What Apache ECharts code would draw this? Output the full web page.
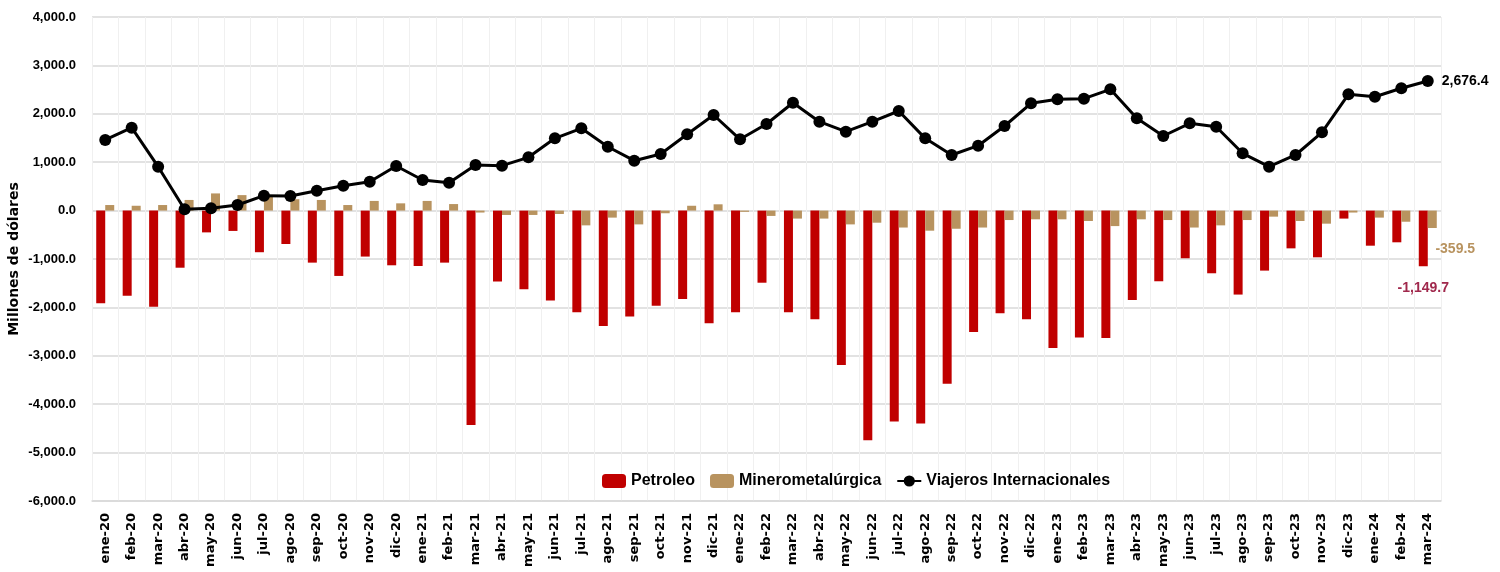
<!DOCTYPE html>
<html>
<head>
<meta charset="utf-8">
<script src="https://cdn.jsdelivr.net/npm/echarts@6/dist/echarts.min.js"></script>
<style>
  html, body { margin: 0; padding: 0; background: #fff; }
  #chart { width: 1500px; height: 572px; }
</style>
</head>
<body>
<div id="chart"></div>
<script>
// meses ene-20 .. mar-24
const months = ['ene-20','feb-20','mar-20','abr-20','may-20','jun-20','jul-20','ago-20','sep-20','oct-20','nov-20','dic-20',
  'ene-21','feb-21','mar-21','abr-21','may-21','jun-21','jul-21','ago-21','sep-21','oct-21','nov-21','dic-21',
  'ene-22','feb-22','mar-22','abr-22','may-22','jun-22','jul-22','ago-22','sep-22','oct-22','nov-22','dic-22',
  'ene-23','feb-23','mar-23','abr-23','may-23','jun-23','jul-23','ago-23','sep-23','oct-23','nov-23','dic-23',
  'ene-24','feb-24','mar-24'];

const petroleo = [-1915,-1760,-1985,-1180,-450,-420,-860,-690,-1075,-1350,-950,-1130,
  -1145,-1075,-4430,-1465,-1625,-1860,-2100,-2385,-2190,-1965,-1825,-2330,
  -2100,-1490,-2100,-2245,-3190,-4745,-4360,-4400,-3575,-2510,-2120,-2245,
  -2840,-2620,-2630,-1845,-1460,-985,-1295,-1735,-1240,-780,-965,-165,
  -725,-655,-1149.7];

const minero = [115,100,115,220,355,320,285,235,220,115,200,150,
  200,135,-40,-90,-90,-70,-305,-145,-285,-55,100,130,
  -25,-110,-165,-165,-285,-250,-350,-415,-375,-350,-195,-180,
  -180,-215,-320,-180,-195,-350,-305,-195,-125,-215,-270,-40,
  -145,-230,-359.5];

const viajeros = [1459,1713,907,27,48,116,308,302,411,515,597,921,
  632,576,942,928,1101,1493,1700,1320,1031,1169,1576,1975,
  1473,1789,2229,1837,1630,1837,2058,1493,1149,1341,1748,2217,
  2300,2312,2506,1907,1541,1804,1733,1184,907,1149,1618,2403,
  2353,2527,2676.4];

const yTicks = { min: -6000, max: 4000, step: 1000 };

const sans = "'Liberation Sans', Arial, sans-serif";
const fmt = v => v.toLocaleString('en-US', { minimumFractionDigits: 1, maximumFractionDigits: 1 });

function lastLabel(arr, label) {
  return arr.map((v, i) => i === arr.length - 1 ? { value: v, label: label } : v);
}

const chart = echarts.init(document.getElementById('chart'));
const option = {
  animation: false,
  grid: { left: 92, right: 59, top: 17, bottom: 71, containLabel: false, outerBoundsMode: 'none' },
  legend: {
    left: 597, top: 468,
    itemWidth: 24, itemHeight: 14, itemGap: 15,
    textStyle: { fontFamily: sans, fontSize: 16, fontWeight: 'bold', color: '#000' },
    data: ['Petroleo', 'Minerometalúrgica', 'Viajeros Internacionales']
  },
  xAxis: {
    type: 'category',
    data: months,
    axisLine: { onZero: false, lineStyle: { color: '#d9d9d9', width: 1.5 } },
    axisTick: { show: false },
    splitLine: { show: true, lineStyle: { color: '#f0f0f0' } },
    axisLabel: {
      rotate: 90, interval: 0, margin: 12,
      fontFamily: 'DejaVu Sans', fontWeight: 'bold', fontSize: 13, color: '#000'
    }
  },
  yAxis: {
    type: 'value',
    min: yTicks.min, max: yTicks.max, interval: yTicks.step,
    name: 'Millones de dólares',
    nameLocation: 'middle', nameGap: 71, nameMoveOverlap: false,
    nameTextStyle: { fontFamily: 'DejaVu Sans', fontWeight: 'bold', fontSize: 14, color: '#000' },
    axisLine: { show: false },
    axisTick: { show: false },
    splitLine: { lineStyle: { color: '#d9d9d9', width: 1.5 } },
    axisLabel: {
      margin: 16, formatter: fmt,
      fontFamily: sans, fontWeight: 'bold', fontSize: 13, color: '#000'
    }
  },
  series: [
    {
      name: 'Petroleo', type: 'bar',
      barWidth: 9, barGap: '0%',
      itemStyle: { color: '#c00000' },
      data: lastLabel(petroleo, {
        show: true, position: 'bottom', distance: 15, formatter: p => fmt(p.value),
        fontFamily: sans, fontSize: 14, fontWeight: 'bold', color: '#a0284c'
      })
    },
    {
      name: 'Minerometalúrgica', type: 'bar',
      barWidth: 9,
      itemStyle: { color: '#b8935f' },
      data: lastLabel(minero, {
        show: true, position: 'bottom', distance: 14, offset: [23, 0], formatter: p => fmt(p.value),
        fontFamily: sans, fontSize: 14, fontWeight: 'bold', color: '#b8935f'
      })
    },
    {
      name: 'Viajeros Internacionales', type: 'line',
      z: 5,
      symbol: 'circle', symbolSize: 12,
      lineStyle: { color: '#000', width: 3 },
      itemStyle: { color: '#000' },
      data: lastLabel(viajeros, {
        show: true, position: 'right', distance: 8, formatter: p => fmt(p.value),
        fontFamily: sans, fontSize: 14, fontWeight: 'bold', color: '#000'
      })
    }
  ]
};
chart.setOption(option);
</script>
</body>
</html>
